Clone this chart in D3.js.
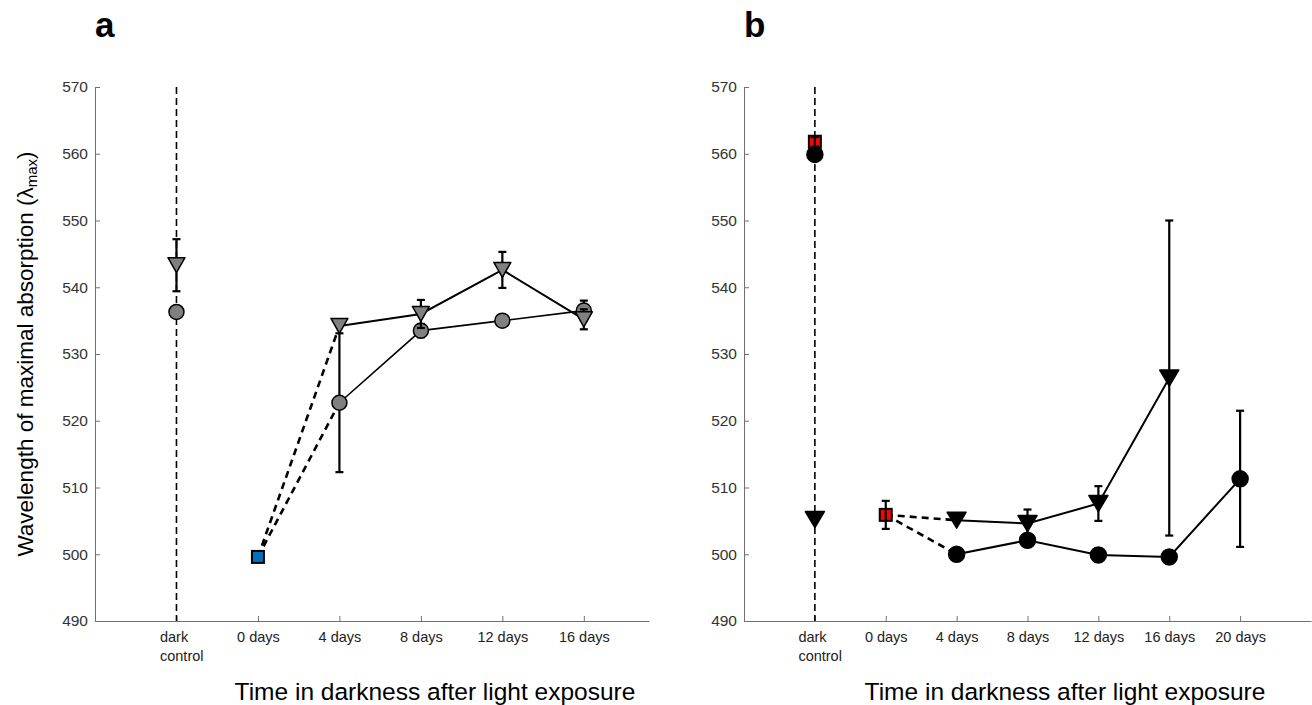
<!DOCTYPE html>
<html>
<head>
<meta charset="utf-8">
<script src="https://cdn.jsdelivr.net/npm/d3@7"></script>
<style>
body { margin: 0; background: #fff; }
text { font-family: "Liberation Sans", Arial, Helvetica, sans-serif; }
</style>
</head>
<body>
<div id="chart"></div>
<script>
// tick labels
var ticks_a = ["dark\ncontrol", "0 days", "4 days", "8 days", "12 days", "16 days"];
var ticks_b = ["dark\ncontrol", "0 days", "4 days", "8 days", "12 days", "16 days", "20 days"];
var y_ticks = [490, 500, 510, 520, 530, 540, 550, 560, 570];

// panel a values (one per x position, null = no point)
var tri_a      = [543.3, null, 534.2, 536.0, 542.6, 535.2];
var tri_a_err  = [3.9,   null, 0,     2.1,   2.7,   1.5];
var circ_a     = [536.3, null, 522.7, 533.5, 535.0, 536.5];
var circ_a_err = [0,     null, 10.4,  1.0,   0.5,   1.5];
var sq_a       = [null,  499.6, null, null,  null,  null];
var sq_a_err   = [null,  0,     null, null,  null,  null];

// panel b values
var tri_b      = [505.2, null,  505.1, 504.6, 507.6, 526.4, null];
var tri_b_err  = [0,     null,  0,     2.1,   2.6,   23.6,  null];
var circ_b     = [559.9, null,  500.0, 502.1, 499.9, 499.6, 511.3];
var circ_b_err = [0,     null,  0.5,   0.6,   1.0,   1.0,   10.2];
var sq_b       = [561.8, 505.9, null,  null,  null,  null,  null];
var sq_b_err   = [0.7,   2.1,   null,  null,  null,  null,  null];

var w = 1312, h = 705;
var top_y = 87, bottom_y = 621;

var svg = d3.select("#chart")
  .append("svg")
    .attr("width", w)
    .attr("height", h);

function points(vals, errs) {
    var out = [];
    vals.forEach(function(v, i) {
        if (v != null) out.push({i: i + 1, v: v, e: errs[i] || 0});
    });
    return out;
}

function draw_panel(p) {
    var x = d3.scaleLinear().domain([0, p.xmax]).range([p.left, p.right]);
    var y = d3.scaleLinear().domain([490, 570]).range([bottom_y, top_y]);
    var g = svg.append("g");

    // <-- Y AXIS -------------
    var ya = g.append("g")
      .attr("transform", "translate(" + p.left + ",0)")
      .call(d3.axisLeft(y).tickValues(y_ticks).tickSizeInner(-5).tickSizeOuter(0).tickPadding(7));
    ya.select(".domain").attr("stroke", "#707070");
    ya.selectAll(".tick line").attr("stroke", "#707070");
    ya.selectAll(".tick text").attr("font-size", 15.5).attr("fill", "#333")
      .attr("font-family", "Liberation Sans, Arial, sans-serif");
    // -- Y AXIS ------------->

    // <-- X AXIS -------------
    var xa = g.append("g")
      .attr("transform", "translate(0," + bottom_y + ")")
      .call(d3.axisBottom(x)
        .tickValues(p.ticks.map(function(d, i) { return i + 1; }))
        .tickFormat(function(d) { return p.ticks[d - 1]; })
        .tickSizeInner(-5).tickSizeOuter(0).tickPadding(11));
    xa.select(".domain").attr("stroke", "#707070");
    xa.selectAll(".tick line").attr("stroke", "#707070");
    xa.selectAll(".tick text").attr("font-size", 14.5).attr("fill", "#222")
      .attr("font-family", "Liberation Sans, Arial, sans-serif")
      .each(function(d) {
          var t = d3.select(this);
          var lines = p.ticks[d - 1].split("\n");
          if (lines.length > 1) {
              t.text(null).attr("text-anchor", "start");
              lines.forEach(function(l, k) {
                  t.append("tspan").attr("x", -17).attr("dy", k == 0 ? "0.71em" : 19).text(l);
              });
          }
      });
    // -- X AXIS ------------->

    // dashed reference line at dark control
    g.append("line")
      .attr("x1", x(1)).attr("x2", x(1))
      .attr("y1", y(570)).attr("y2", y(490))
      .attr("stroke", "#000")
      .attr("stroke-width", 1.6)
      .attr("stroke-dasharray", "7,4");

    var tri = points(p.tri, p.tri_err);
    var circ = points(p.circ, p.circ_err);
    var sq = points(p.sq, p.sq_err);
    var sq0 = sq.filter(function(d) { return d.i == 2; })[0];

    var line = d3.line().x(function(d) { return x(d.i); }).y(function(d) { return y(d.v); });

    // dashed from 0 days square to 4 days
    [tri, circ].forEach(function(s) {
        var first = s.filter(function(d) { return d.i == 3; });
        g.append("path")
          .attr("d", line([sq0].concat(first)))
          .attr("fill", "none")
          .attr("stroke", "#000")
          .attr("stroke-width", 2.6)
          .attr("stroke-dasharray", "7,5");
    });

    // solid lines from 4 days on
    g.append("path")
      .attr("d", line(circ.filter(function(d) { return d.i >= 3; })))
      .attr("fill", "none").attr("stroke", "#000").attr("stroke-width", p.circ_lw);
    g.append("path")
      .attr("d", line(tri.filter(function(d) { return d.i >= 3; })))
      .attr("fill", "none").attr("stroke", "#000").attr("stroke-width", 2);

    function errbars(s) {
        var eb = g.append("g").attr("stroke", "#000").attr("stroke-width", 2.2);
        s.filter(function(d) { return d.e > 0; }).forEach(function(d) {
            eb.append("line")
              .attr("x1", x(d.i)).attr("x2", x(d.i))
              .attr("y1", y(d.v - d.e)).attr("y2", y(d.v + d.e));
            [d.v - d.e, d.v + d.e].forEach(function(c) {
                eb.append("line")
                  .attr("x1", x(d.i) - 4).attr("x2", x(d.i) + 4)
                  .attr("y1", y(c)).attr("y2", y(c));
            });
        });
    }

    // circles
    errbars(circ);
    g.append("g").selectAll("circle")
      .data(circ)
      .enter().append("circle")
        .attr("cx", function(d) { return x(d.i); })
        .attr("cy", function(d) { return y(d.v); })
        .attr("r", p.r)
        .attr("fill", p.fill)
        .attr("stroke", "#000")
        .attr("stroke-width", 1.5);

    // triangles pointing down
    errbars(tri);
    g.append("g").selectAll("path")
      .data(tri)
      .enter().append("path")
        .attr("d", function(d) {
            var cx = x(d.i), cy = y(d.v), hw = p.tw / 2, hh = p.th / 2;
            return "M" + (cx - hw) + "," + (cy - hh) + "L" + (cx + hw) + "," + (cy - hh) + "L" + cx + "," + (cy + hh) + "Z";
        })
        .attr("fill", p.fill)
        .attr("stroke", "#000")
        .attr("stroke-width", 1.5)
        .attr("stroke-linejoin", "round");

    // squares
    g.append("g").selectAll("rect")
      .data(sq)
      .enter().append("rect")
        .attr("x", function(d) { return x(d.i) - 6; })
        .attr("y", function(d) { return y(d.v) - 6; })
        .attr("width", 12)
        .attr("height", 12)
        .attr("fill", p.sq_fill)
        .attr("stroke", "#000")
        .attr("stroke-width", 2);
    errbars(sq);

    // panel letter
    svg.append("text")
      .attr("x", p.left)
      .attr("y", 37)
      .attr("font-size", 35)
      .attr("font-weight", "bold")
      .text(p.letter);

    // x title
    svg.append("text")
      .attr("x", p.title_x)
      .attr("y", 700)
      .attr("text-anchor", "middle")
      .attr("font-size", 24.5)
      .text("Time in darkness after light exposure");
}

draw_panel({letter: "a", left: 95, right: 649, xmax: 6.8, ticks: ticks_a,
            tri: tri_a, tri_err: tri_a_err, circ: circ_a, circ_err: circ_a_err,
            sq: sq_a, sq_err: sq_a_err, fill: "#808080", sq_fill: "#0072BD",
            r: 7.5, tw: 17, th: 15, circ_lw: 1.6, title_x: 435});

draw_panel({letter: "b", left: 744, right: 1311, xmax: 8, ticks: ticks_b,
            tri: tri_b, tri_err: tri_b_err, circ: circ_b, circ_err: circ_b_err,
            sq: sq_b, sq_err: sq_b_err, fill: "#000", sq_fill: "#ff0000",
            r: 8, tw: 19, th: 16, circ_lw: 2, title_x: 1065});

// y axis title
svg.append("text")
  .attr("transform", "translate(33,354) rotate(-90)")
  .attr("text-anchor", "middle")
  .attr("font-size", 22.5)
  .text("Wavelength of maximal absorption (λ")
  .append("tspan").attr("font-size", 15).attr("dy", 4).text("max")
  .select(function() { return this.parentNode; })
  .append("tspan").attr("font-size", 22.5).attr("dy", -4).text(")");
</script>
</body>
</html>
